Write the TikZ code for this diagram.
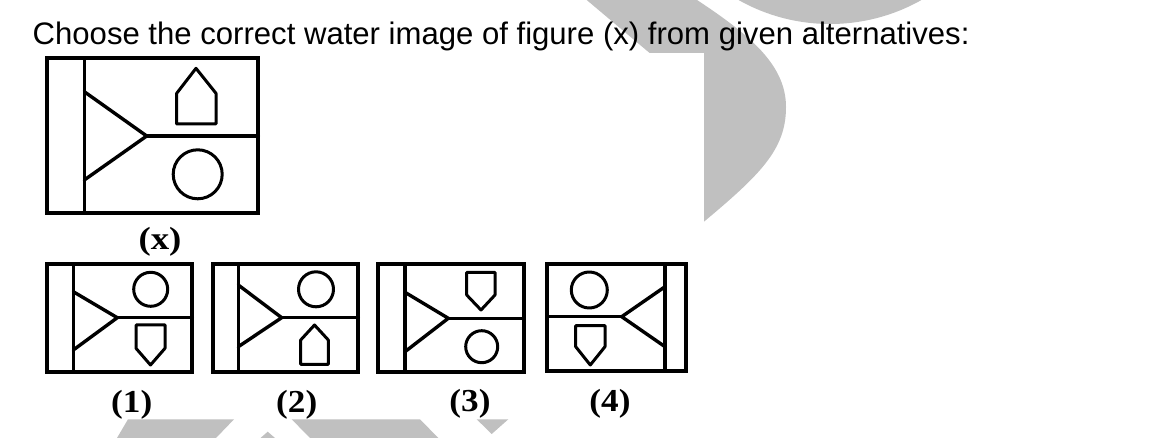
\documentclass[tikz,border=0pt]{standalone}
\usepackage{fontspec}
\setmainfont{Liberation Serif}
\newfontfamily\titlefont{Liberation Sans}
\definecolor{wm}{RGB}{192,192,192}
\tikzset{
  fframe/.style={line width=3.8pt, line join=miter},
  finner/.style={line width=3.4pt, line join=round, line cap=round},
  fsym/.style={line width=3pt, line join=round},
  flab/.style={inner sep=0pt, font=\fontsize{32}{33}\selectfont\bfseries},
}
\begin{document}
\begin{tikzpicture}[x=1pt,y=-1pt]
\clip (0,0) rectangle (1152,438);
\fill[white] (0,0) rectangle (1152,438);
% watermark pieces
\fill[wm] (586.7,0) -- (697,0) .. controls (750,35) and (786,65) .. (786,107)
  .. controls (786,150) and (760,175) .. (700,225) -- (690,225) -- (650,53.3) -- cycle;
\fill[wm] (830,-162) circle[radius=186pt];
\fill[wm] (128,419.3) -- (234,419.3) -- (216,438) -- (117,438) -- cycle;
\fill[wm] (267.7,431.7) -- (275,438) -- (260.5,438) -- cycle;
\fill[wm] (291.7,419.3) -- (420,419.3) -- (438.3,438) -- (310,438) -- cycle;
\fill[wm] (476.7,419.3) -- (508.3,419.3) -- (491.7,434) -- cycle;
% white picture area
\fill[white] (0,53.3) rectangle (704,419.3);
% title
\node[anchor=base west, inner sep=0pt, font=\titlefont\fontsize{31.1}{32}\selectfont] (title) at (32.5,45)
  {Choose the correct water image of figure (x) from given alternatives:};
% figure (x)
\draw[fframe] (46.7,58.3) rectangle (258.3,212.7);
\draw[finner] (84.3,58.3) -- (84.3,212.7);
\draw[finner] (84.3,91.7) -- (146.7,136) -- (84.3,180);
\draw[finner] (146.7,136) -- (258.3,136);
\draw[fsym] (176.7,124) -- (216,124) -- (216,93.3) -- (196,68.3) -- (176.7,93.3) -- cycle;
\draw[fsym] (197.7,174.3) circle[radius=24.5pt];
\node[flab] (lx) at (160,242) {\scalebox{1.15}[1]{(x)}};
% figure (1)
\draw[fframe] (47.3,264.3) rectangle (192.3,372.3);
\draw[finner] (73.3,264.3) -- (73.3,372.3);
\draw[finner] (73.3,291.7) -- (117.3,317.7) -- (73.3,350);
\draw[finner] (117.3,317.7) -- (192.3,317.7);
\draw[fsym] (150.7,289.3) circle[radius=17pt];
\draw[fsym] (136,325) -- (165,325) -- (165,348.3) -- (150.5,365) -- (136,348.3) -- cycle;
\node[flab] (l1) at (131.7,405) {\scalebox{1.1}[1]{(1)}};
% figure (2)
\draw[fframe] (212.7,264.3) rectangle (358.3,372.3);
\draw[finner] (238.3,264.3) -- (238.3,372.3);
\draw[finner] (238.3,285) -- (281.7,317.7) -- (238.3,346.7);
\draw[finner] (281.7,317.7) -- (358.3,317.7);
\draw[fsym] (316,289.3) circle[radius=17.5pt];
\draw[fsym] (300.7,364.3) -- (328.3,364.3) -- (328.3,340) -- (314.5,325) -- (300.7,340) -- cycle;
\node[flab] (l2) at (296.7,405) {\scalebox{1.1}[1]{(2)}};
% figure (3)
\draw[fframe] (378.3,264.3) rectangle (524,372.3);
\draw[finner] (405,264.3) -- (405,372.3);
\draw[finner] (405,292.3) -- (448.3,318.3) -- (405,351.7);
\draw[finner] (448.3,318.3) -- (524,318.3);
\draw[fsym] (466.7,272.3) -- (495,272.3) -- (495,295) -- (481,310) -- (466.7,295) -- cycle;
\draw[fsym] (481.7,346.7) circle[radius=16pt];
\node[flab] (l3) at (470,404) {\scalebox{1.1}[1]{(3)}};
% figure (4)
\draw[fframe] (546.7,264.3) rectangle (686,371);
\draw[finner] (665,264.3) -- (665,371);
\draw[finner] (665,286.7) -- (621.7,316.7) -- (665,346.7);
\draw[finner] (546.7,316.7) -- (621.7,316.7);
\draw[fsym] (589.3,290) circle[radius=18pt];
\draw[fsym] (575.7,325.7) -- (605,325.7) -- (605,346.7) -- (590.3,365) -- (575.7,346.7) -- cycle;
\node[flab] (l4) at (610,404) {\scalebox{1.1}[1]{(4)}};
\end{tikzpicture}
\end{document}
